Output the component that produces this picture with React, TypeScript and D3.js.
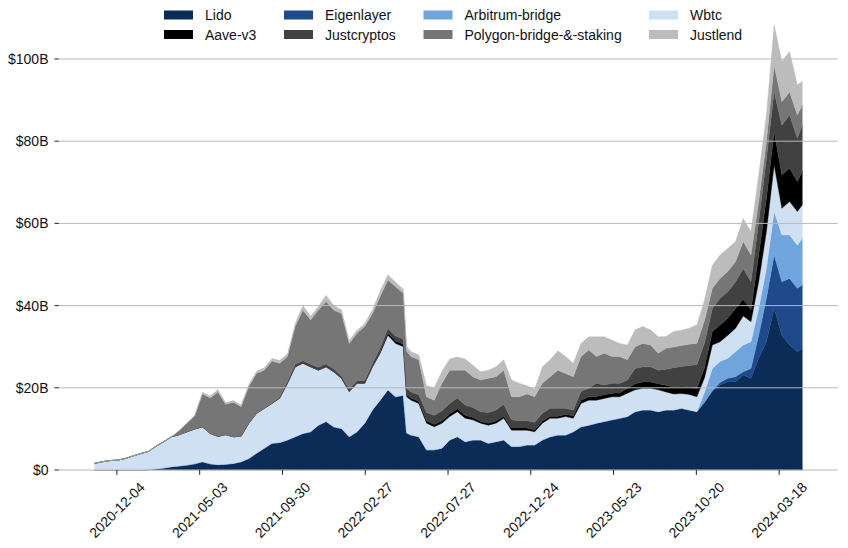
import React from "react";
import * as d3 from "d3";

// sample days counted from the first day of data (every 14 days, plus one
// extra sample right after the May 2022 drop and the last day)
const firstDay = new Date(Date.UTC(2020, 9, 24));
const dayOffsets = [...d3.range(0, 561, 14), 566, ...d3.range(574, 1275, 14), 1283];
const dates = dayOffsets.map((n) => d3.utcDay.offset(firstDay, n));
const lastDay = dates[dates.length - 1];

// TVL in $B
const lido = [
  0, 0, 0, 0, 0, 0, 0,
  0.1, 0.3, 0.5, 0.8, 1.0, 1.2, 1.5, 2.0, 1.5, 1.3, 1.4, 1.6, 2.0, 2.8, 4.1, 5.3, 6.5, 6.7,
  7.3, 8.1, 8.9, 9.3, 10.9, 11.8, 10.5, 10.1, 8.1, 9.3, 11.4, 14.6, 17.0, 19.5, 17.8, 18.2,
  9.0,
  8.5, 8.1, 4.9, 4.9, 5.3, 7.3, 8.1, 6.9, 7.3, 7.3,
  6.5, 6.9, 7.3, 5.7, 5.7, 6.1, 6.1, 7.3, 8.1, 8.5, 8.5, 9.3, 10.5, 10.9, 11.4, 11.8, 12.2, 12.6, 13.0, 14.2, 14.6, 14.6, 14.2, 14.6,
  14.6, 15.0, 14.6, 14.2, 16.5, 19.1, 20.7, 21.5, 21.5, 23.1, 22.3, 27.2, 31.2, 39.3, 32.8, 30.4, 28.8, 29.6,
];

const eigenlayer = [
  ...new Array(81).fill(0),
  0.2, 0.6, 0.8, 1.2, 0.8, 2.4, 5.6, 10.6, 13.0, 13.0, 16.2, 15.4, 15.4,
];

const arbitrumBridge = [
  ...new Array(80).fill(0),
  2.5, 5.4, 5.1, 4.9, 6.1, 6.5, 6.5, 6.5, 7.2, 10.6, 11.4, 10.6, 10.5, 11.4,
];

const wbtc = [
  1.6, 2.0, 2.3, 2.4, 2.8, 3.4, 4.0, 4.4, 5.5, 6.4, 7.3, 7.6, 8.1, 8.5, 8.5, 7.4, 6.9, 7.2, 6.5, 6.2, 8.6, 9.7, 9.7, 9.7, 10.8,
  13.8, 17.0, 17.1, 15.8, 13.4, 13.3, 13.4, 12.2, 11.0, 11.8, 9.7, 10.5, 11.4, 13.3, 13.0, 11.8,
  8.8,
  8.5, 8.1, 6.5, 5.6, 6.1, 5.7, 6.1, 5.7, 4.9, 4.1,
  4.4, 4.5, 5.3, 4.0, 4.0, 3.6, 3.2, 4.1, 4.5, 4.1, 4.5, 3.3, 5.7, 6.1, 5.6, 5.6, 5.6, 5.2, 5.7, 5.3, 5.3, 5.3, 5.3, 4.4,
  3.9, 3.6, 3.8, 3.6, 3.5, 5.7, 4.8, 5.6, 5.7, 7.1, 4.9, 6.5, 9.0, 11.3, 6.5, 8.1, 8.2, 8.1,
];

const aaveV3 = [
  ...new Array(37).fill(0),
  0.3, 0.5, 0.6, 0.6,
  0.5,
  0.5, 0.5, 0.6, 0.6, 0.6, 0.6, 0.7, 0.7, 0.6, 0.4,
  0.5, 0.5, 0.5, 0.5, 0.5, 0.5, 0.5, 0.5, 0.5, 0.5, 0.5, 0.6, 0.8, 0.8, 0.9, 0.9, 0.9, 1.0, 1.1, 1.5, 1.5, 1.5, 1.5, 1.6,
  1.7, 1.8, 1.8, 2.0, 2.5, 3.3, 4.1, 4.1, 4.8, 4.0, 2.9, 6.5, 8.1, 8.1, 8.1, 8.1, 7.3, 8.1,
];

const justcryptos = [
  ...new Array(24).fill(0),
  0.3,
  0.5, 0.6, 0.6, 0.6, 0.7, 0.7, 0.7, 0.6, 0.6, 0.6, 0.7, 0.8,
  1.0, 1.1, 1.2, 1.2,
  1.6,
  1.5, 1.6, 2.0, 2.2, 2.4, 2.6, 2.6, 2.5, 2.4, 2.4,
  2.6, 2.7, 2.9, 2.0, 1.8, 1.8, 1.8, 1.9, 1.9, 1.9, 1.5, 1.4, 2.1, 2.1, 3.2, 2.4, 2.4, 2.3, 2.1, 3.7, 3.7, 3.7, 3.3, 3.9,
  4.7, 4.8, 5.2, 5.8, 6.0, 5.6, 6.5, 6.5, 6.5, 7.5, 6.8, 8.1, 9.7, 9.7, 12.1, 13.0, 10.5, 11.3,
];

const polygonBridge = [
  ...new Array(11).fill(0),
  1.0, 2.1, 3.2, 8.0, 8.6, 10.8, 7.4, 8.4, 7.2, 8.9, 9.7, 9.3, 10.3, 8.2,
  6.0, 9.2, 12.3, 10.8, 13.9, 15.2, 14.3, 15.2, 11.1, 11.6, 13.1, 12.2, 12.5, 11.8, 12.0, 11.2,
  9.0,
  8.6, 8.5, 3.8, 3.7, 6.7, 8.1, 6.8, 8.5, 7.5, 7.7,
  8.3, 8.1, 8.3, 5.6, 5.8, 6.5, 6.2, 7.3, 7.7, 9.3, 8.5, 8.1, 8.5, 9.3, 6.5, 7.7, 6.5, 6.5, 4.9, 5.3, 5.7, 5.3, 4.1, 5.1,
  5.0, 5.1, 5.2, 5.2, 5.5, 4.9, 4.8, 4.9, 4.9, 6.6, 6.5, 4.9, 4.1, 6.5, 5.7, 5.6, 5.7, 4.9,
];

const justlend = [
  ...new Array(14).fill(0),
  0.4, 0.5, 0.6, 0.4, 0.4, 0.4, 0.5, 0.5, 0.6, 0.6, 0.7,
  0.6, 0.7, 1.1, 0.9, 0.9, 1.5, 1.1, 0.9, 0.7, 0.7, 0.7, 0.9, 1.3, 1.3, 1.1, 1.0,
  1.2,
  1.2, 1.2, 2.7, 3.0, 2.9, 2.7, 3.2, 2.7, 2.8, 2.0,
  2.0, 2.4, 2.5, 4.1, 3.3, 2.0, 1.9, 4.0, 4.1, 4.7, 4.1, 3.3, 3.2, 3.2, 4.8, 4.0, 4.0, 3.2, 3.6, 4.1, 4.1, 3.7, 4.0, 2.9,
  3.8, 3.7, 3.9, 4.5, 5.0, 5.6, 5.7, 5.6, 4.9, 5.6, 5.7, 6.5, 6.5, 9.8, 9.8, 9.8, 7.3, 5.7,
];

const seriesNames = [
  "Lido",
  "Eigenlayer",
  "Arbitrum-bridge",
  "Wbtc",
  "Aave-v3",
  "Justcryptos",
  "Polygon-bridge-&-staking",
  "Justlend",
];
const seriesValues = [lido, eigenlayer, arbitrumBridge, wbtc, aaveV3, justcryptos, polygonBridge, justlend];
const colors = ["#0a2c57", "#1e4a8c", "#6fa5dc", "#cee0f2", "#000000", "#414141", "#767676", "#bcbcbc"];

const xTickLabels = [
  "2020-12-04",
  "2021-05-03",
  "2021-09-30",
  "2022-02-27",
  "2022-07-27",
  "2022-12-24",
  "2023-05-23",
  "2023-10-20",
  "2024-03-18",
];
const yTicks = [0, 20, 40, 60, 80, 100];

const width = 848;
const height = 548;
const font = "'Liberation Sans', Arial, sans-serif";

// legend: 4 columns, filled row by row
const legendColX = [164, 284, 423.5, 649];
const legendRowY = [15, 34.5];

const App = () => {
  const x = d3.scaleUtc().domain([firstDay, lastDay]).range([94.3, 802.3]);
  const y = d3.scaleLinear().domain([0, 100]).range([470, 59]);

  const rows = dates.map((date, i) => {
    const row: any = { date };
    seriesNames.forEach((name, k) => {
      row[name] = seriesValues[k][i];
    });
    return row;
  });

  const stacked = d3.stack<any>().keys(seriesNames)(rows);

  const areaGen = d3
    .area<any>()
    .x((d) => x(d.data.date))
    .y0((d) => y(d[0]))
    .y1((d) => y(d[1]));

  const parse = d3.utcParse("%Y-%m-%d");

  return (
    <svg
      width={width}
      height={height}
      style={{ position: "absolute", left: 0, top: 0, background: "#fff" }}
      fontFamily={font}
    >
      {stacked.map((s, k) => (
        <path
          key={s.key}
          d={areaGen(s) || ""}
          fill={colors[k]}
          stroke={colors[k]}
          strokeWidth={0.4}
        />
      ))}

      {yTicks.map((t) => (
        <g key={t}>
          <line x1={58.9} x2={837.7} y1={y(t)} y2={y(t)} stroke="#b8b8b8" strokeWidth={1} />
          <line x1={54.5} x2={58.9} y1={y(t)} y2={y(t)} stroke="#222" strokeWidth={1} />
          <text
            x={48.5}
            y={y(t)}
            textAnchor="end"
            dominantBaseline="central"
            fontSize={14}
            fill="#111"
          >
            {t === 0 ? "$0" : `$${t}B`}
          </text>
        </g>
      ))}

      {xTickLabels.map((lab) => {
        const tx = x(parse(lab) as Date);
        return (
          <g key={lab}>
            <line x1={tx} x2={tx} y1={470} y2={474.9} stroke="#222" strokeWidth={1} />
            <text
              x={tx}
              y={510}
              textAnchor="middle"
              dominantBaseline="central"
              fontSize={14}
              fill="#111"
              transform={`rotate(-45, ${tx}, 510)`}
            >
              {lab}
            </text>
          </g>
        );
      })}

      {seriesNames.map((name, k) => {
        const lx = legendColX[k % 4];
        const ly = legendRowY[Math.floor(k / 4)];
        return (
          <g key={name}>
            <rect x={lx} y={ly - 4.5} width={29} height={9} fill={colors[k]} />
            <text x={lx + 41} y={ly} dominantBaseline="central" fontSize={14} fill="#111">
              {name}
            </text>
          </g>
        );
      })}
    </svg>
  );
};

export default App;
